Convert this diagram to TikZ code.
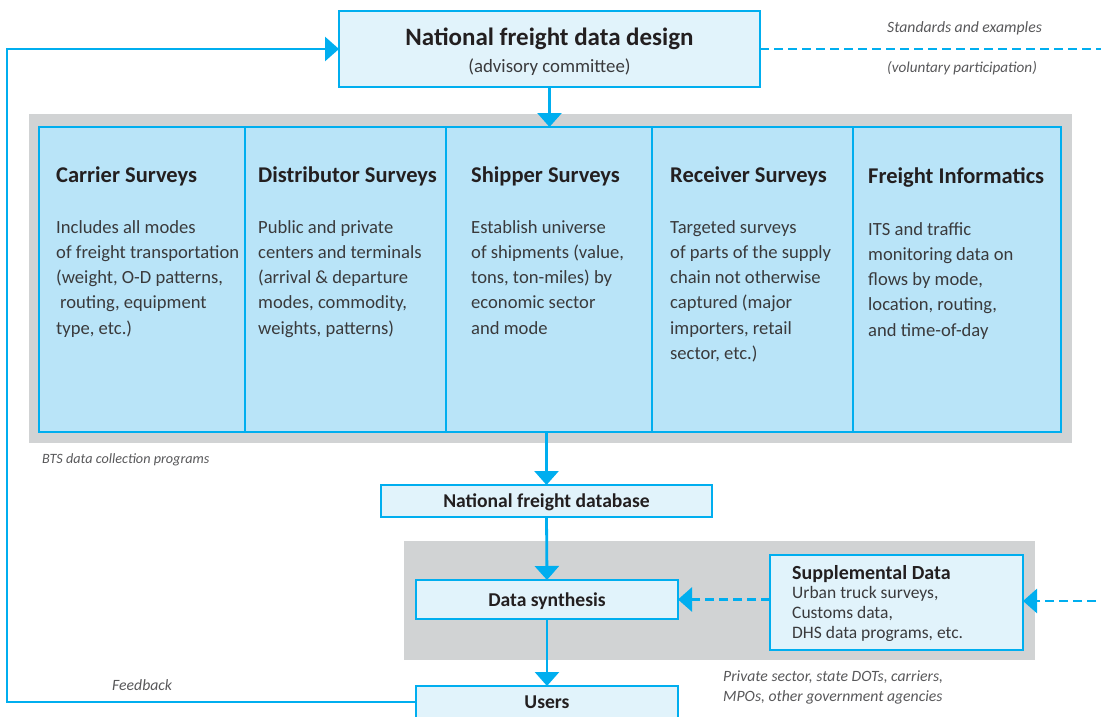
\documentclass[tikz,border=0pt]{standalone}
\usepackage{fontspec}
\setmainfont{Carlito}
\usetikzlibrary{arrows.meta}
\definecolor{cy}{HTML}{00AEEF}
\definecolor{lfill}{HTML}{E1F3FB}
\definecolor{sfill}{HTML}{B9E4F8}
\definecolor{gbg}{HTML}{D1D3D4}
\definecolor{ink}{HTML}{231F20}
\definecolor{bodyc}{HTML}{3A3A3C}
\definecolor{notec}{HTML}{58585A}
\newcommand\vlines[2]{\vtop{\baselineskip=#1\lineskiplimit=-20pt\lineskip=0pt #2}}
\begin{document}
\begin{tikzpicture}[x=1pt,y=-1pt,
  bx/.style={draw=cy,line width=2.8pt,fill=lfill,inner sep=0pt,outer sep=0pt,anchor=north west},
  col/.style={draw=cy,line width=2.8pt,fill=sfill,inner sep=0pt,outer sep=0pt,anchor=north west,minimum height=305pt},
  bg/.style={fill=gbg,inner sep=0pt,outer sep=0pt,anchor=north west,draw=none},
  arr/.style={draw=cy,line width=2.8pt,-{Triangle[length=14pt,width=24pt]}},
  darr/.style={draw=cy,line width=2.8pt,dash pattern=on 9pt off 5pt,-{Triangle[length=14pt,width=24pt]}},
  dline/.style={draw=cy,line width=2.8pt,dash pattern=on 9pt off 5pt},
  head/.style={anchor=base west,inner sep=0pt,text=ink,font=\bfseries\fontsize{22.5}{27}\selectfont},
  txt/.style={anchor=base west,inner sep=0pt,text=bodyc,font=\fontsize{18.6}{25.3}\selectfont},
  lbl/.style={anchor=base,inner sep=0pt,text=ink,font=\bfseries\fontsize{19.6}{24}\selectfont},
  nt/.style={anchor=base west,inner sep=0pt,text=notec,font=\itshape\fontsize{15.7}{20}\selectfont}]
\useasboundingbox (0,0) rectangle (1101,717);
\clip (0,0) rectangle (1101,717);
% backgrounds
\node[bg,minimum width=1043pt,minimum height=329pt] (bg1) at (29,114) {};
\node[bg,minimum width=631pt,minimum height=119pt] (bg2) at (404,541) {};
% design box
\node[bx,minimum width=421pt,minimum height=76pt] (design) at (339,11) {};
\node[lbl,font=\bfseries\fontsize{25}{30}\selectfont] (designT) at (549.5,46) {National freight data design};
\node[anchor=base,inner sep=0pt,text=bodyc,font=\fontsize{18.8}{22}\selectfont] (designS) at (549.5,73) {(advisory committee)};
% survey columns
\node[col,minimum width=206pt] (c1) at (39,127) {};
\node[col,minimum width=201pt] (c2) at (245,127) {};
\node[col,minimum width=206pt] (c3) at (446,127) {};
\node[col,minimum width=201pt] (c4) at (652,127) {};
\node[col,minimum width=208pt] (c5) at (853,127) {};
\node[head] (h1) at (56,182) {Carrier Surveys};
\node[head] (h2) at (258,182) {Distributor Surveys};
\node[head] (h3) at (471,182) {Shipper Surveys};
\node[head] (h4) at (670,182) {Receiver Surveys};
\node[head] (h5) at (868,183) {Freight Informatics};
\node[txt] (t1) at (56,233) {\vlines{25.3pt}{\hbox{Includes all modes}\hbox{of freight transportation}\hbox{(weight, O-D patterns,}\hbox{\hspace{4pt}routing, equipment}\hbox{type, etc.)}}};
\node[txt] (t2) at (258,233) {\vlines{25.3pt}{\hbox{Public and private}\hbox{centers and terminals}\hbox{(arrival \& departure}\hbox{modes, commodity,}\hbox{weights, patterns)}}};
\node[txt] (t3) at (471,233) {\vlines{25.3pt}{\hbox{Establish universe}\hbox{of shipments (value,}\hbox{tons, ton-miles) by}\hbox{economic sector}\hbox{and mode}}};
\node[txt] (t4) at (670,233) {\vlines{25.3pt}{\hbox{Targeted surveys}\hbox{of parts of the supply}\hbox{chain not otherwise}\hbox{captured (major}\hbox{importers, retail}\hbox{sector, etc.)}}};
\node[txt] (t5) at (868,235) {\vlines{25.3pt}{\hbox{ITS and traffic}\hbox{monitoring data on}\hbox{flows by mode,}\hbox{location, routing,}\hbox{and time-of-day}}};
% notes
\node[nt] (std) at (887,33) {Standards and examples};
\node[nt,font=\itshape\fontsize{15.2}{20}\selectfont] (vol) at (887,73) {(voluntary participation)};
\node[nt,font=\itshape\fontsize{14.2}{18}\selectfont] (bts) at (42,463) {BTS data collection programs};
\node[nt] (fbk) at (112,690) {Feedback};
\node[nt] (priv) at (723,681) {\vlines{20pt}{\hbox{Private sector, state DOTs, carriers,}\hbox{MPOs, other government agencies}}};
% lower boxes
\node[bx,minimum width=331pt,minimum height=32pt] (nfd) at (381,485) {};
\node[lbl] (nfdT) at (546.5,507) {National freight database};
\node[bx,minimum width=262pt,minimum height=39pt] (syn) at (416,580) {};
\node[lbl] (synT) at (547,606) {Data synthesis};
\node[bx,minimum width=262pt,minimum height=45pt] (users) at (416,686) {};
\node[lbl] (usersT) at (547,708) {Users};
\node[bx,minimum width=253pt,minimum height=95pt] (supp) at (770,555) {};
\node[anchor=base west,inner sep=0pt,text=ink,font=\bfseries\fontsize{20}{24}\selectfont] (suppH) at (792,579) {Supplemental Data};
\node[anchor=base west,inner sep=0pt,text=bodyc,font=\fontsize{17.5}{20}\selectfont] (suppB) at (792,598) {\vlines{20pt}{\hbox{Urban truck surveys,}\hbox{Customs data,}\hbox{DHS data programs, etc.}}};
% connectors
\coordinate (rout) at (1110,49);
\coordinate (rin) at (1110,601);
\coordinate (fbc) at (7,49);
\draw[dline] (design.east) -- (rout |- design.east);
\draw[arr] (design.south) -- (design.south |- c3.north);
\draw[arr] (nfd.north |- c3.south) -- (nfd.north);
\draw[arr] (nfd.south) -- (syn.north);
\draw[arr] (syn.south) -- (users.north);
\draw[darr] (supp.west |- syn.east) -- (syn.east);
\draw[darr] (rin) -- (supp.east |- rin);
\draw[arr] ([yshift=-16pt]users.north west) -| (fbc) -- (design.west);
\end{tikzpicture}
\end{document}
